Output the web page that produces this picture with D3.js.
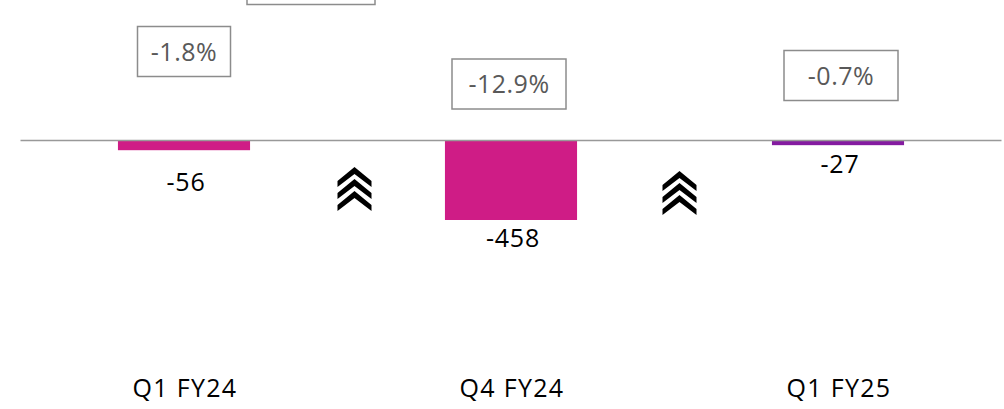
<!DOCTYPE html>
<meta charset="utf-8">
<style>
body { margin: 0; background: #fff; }
text { font-family: "Open Sans", Lato, sans-serif; }
.cat { font-size: 25px; fill: #000; letter-spacing: 1.3px; }
.val { font-size: 25px; fill: #000; letter-spacing: 0.8px; }
.pct { font-size: 25px; fill: #595959; letter-spacing: 0.5px; }
.pct-box { fill: #fff; stroke: #8c8c8c; stroke-width: 1.5px; }
</style>
<svg width="1004" height="409"></svg>
<script src="https://d3js.org/d3.v7.min.js"></script>
<script>

// data
var categories = ["Q1 FY24", "Q4 FY24", "Q1 FY25"];
var values = [-56, -458, -27];
var pctChange = ["-1.8%", "-12.9%", "-0.7%"];
var barColors = ["#cf1c86", "#cf1c86", "#841ba0"];

// layout tweaks (pixels)
var labelGap = [41, 27, 28];      // value label baseline below bar end
var pctBoxY = [51.5, 84, 75.5];   // centre of the percent boxes
var pctBoxW = [93, 114, 114];
var pctBoxDx = [0, -2, 3];

var svg = d3.select("svg");

var x = d3.scaleBand()
    .domain(categories)
    .range([20.5, 1001.5])
    .paddingInner(0.596)
    .paddingOuter(0.298);

var y = d3.scaleLinear()
    .domain([-1000, 600])
    .range([314.1, 36.3]);

// bars
svg.selectAll("rect.bar")
  .data(values)
  .enter().append("rect")
    .attr("class", "bar")
    .attr("x", function(d, i) { return x(categories[i]); })
    .attr("width", x.bandwidth())
    .attr("y", y(0))
    .attr("height", function(d) { return y(d) - y(0); })
    .attr("fill", function(d, i) { return barColors[i]; });

// zero line
svg.append("line")
    .attr("x1", x.range()[0])
    .attr("x2", x.range()[1])
    .attr("y1", y(0))
    .attr("y2", y(0))
    .attr("stroke", "#999")
    .attr("stroke-width", 1.6);

// value labels
svg.selectAll("text.val")
  .data(values)
  .enter().append("text")
    .attr("class", "val")
    .attr("text-anchor", "middle")
    .attr("x", function(d, i) { return x(categories[i]) + x.bandwidth() / 2 + 2; })
    .attr("y", function(d, i) { return y(d) + labelGap[i]; })
    .text(function(d) { return d; });

// category labels
svg.selectAll("text.cat")
  .data(categories)
  .enter().append("text")
    .attr("class", "cat")
    .attr("text-anchor", "middle")
    .attr("x", function(d) { return x(d) + x.bandwidth() / 2 + 1; })
    .attr("y", 397)
    .text(function(d) { return d; });

// percent boxes
var boxes = svg.selectAll("g.pct")
  .data(pctChange)
  .enter().append("g")
    .attr("class", "pct")
    .attr("transform", function(d, i) {
      var cx = x(categories[i]) + x.bandwidth() / 2 + pctBoxDx[i];
      return "translate(" + cx + "," + pctBoxY[i] + ")";
    });

boxes.append("rect")
    .attr("class", "pct-box")
    .attr("x", function(d, i) { return -pctBoxW[i] / 2; })
    .attr("y", -25)
    .attr("width", function(d, i) { return pctBoxW[i]; })
    .attr("height", 50);

boxes.append("text")
    .attr("class", "pct")
    .attr("text-anchor", "middle")
    .attr("y", 9)
    .text(function(d) { return d; });

// box cut off at the top edge
svg.append("rect")
    .attr("class", "pct-box")
    .attr("x", 247)
    .attr("y", -45)
    .attr("width", 128)
    .attr("height", 49.5);

// triple chevrons between bars
function chevron(cx, top) {
  var p = d3.path();
  for (var k = 0; k < 3; k++) {
    var a = top + k * 12;
    p.moveTo(cx, a);
    p.lineTo(cx + 17, a + 14);
    p.lineTo(cx + 17, a + 20);
    p.lineTo(cx, a + 7);
    p.lineTo(cx - 17, a + 20);
    p.lineTo(cx - 17, a + 14);
    p.closePath();
  }
  return p.toString();
}

var mids = [0, 1].map(function(i) {
  return (x(categories[i]) + x(categories[i + 1])) / 2 + x.bandwidth() / 2;
});
var chevTop = [167, 171];
var chevDx = [7, 5];

svg.selectAll("path.chev")
  .data(mids)
  .enter().append("path")
    .attr("class", "chev")
    .attr("d", function(d, i) { return chevron(d + chevDx[i], chevTop[i]); })
    .attr("fill", "#000");

</script>
